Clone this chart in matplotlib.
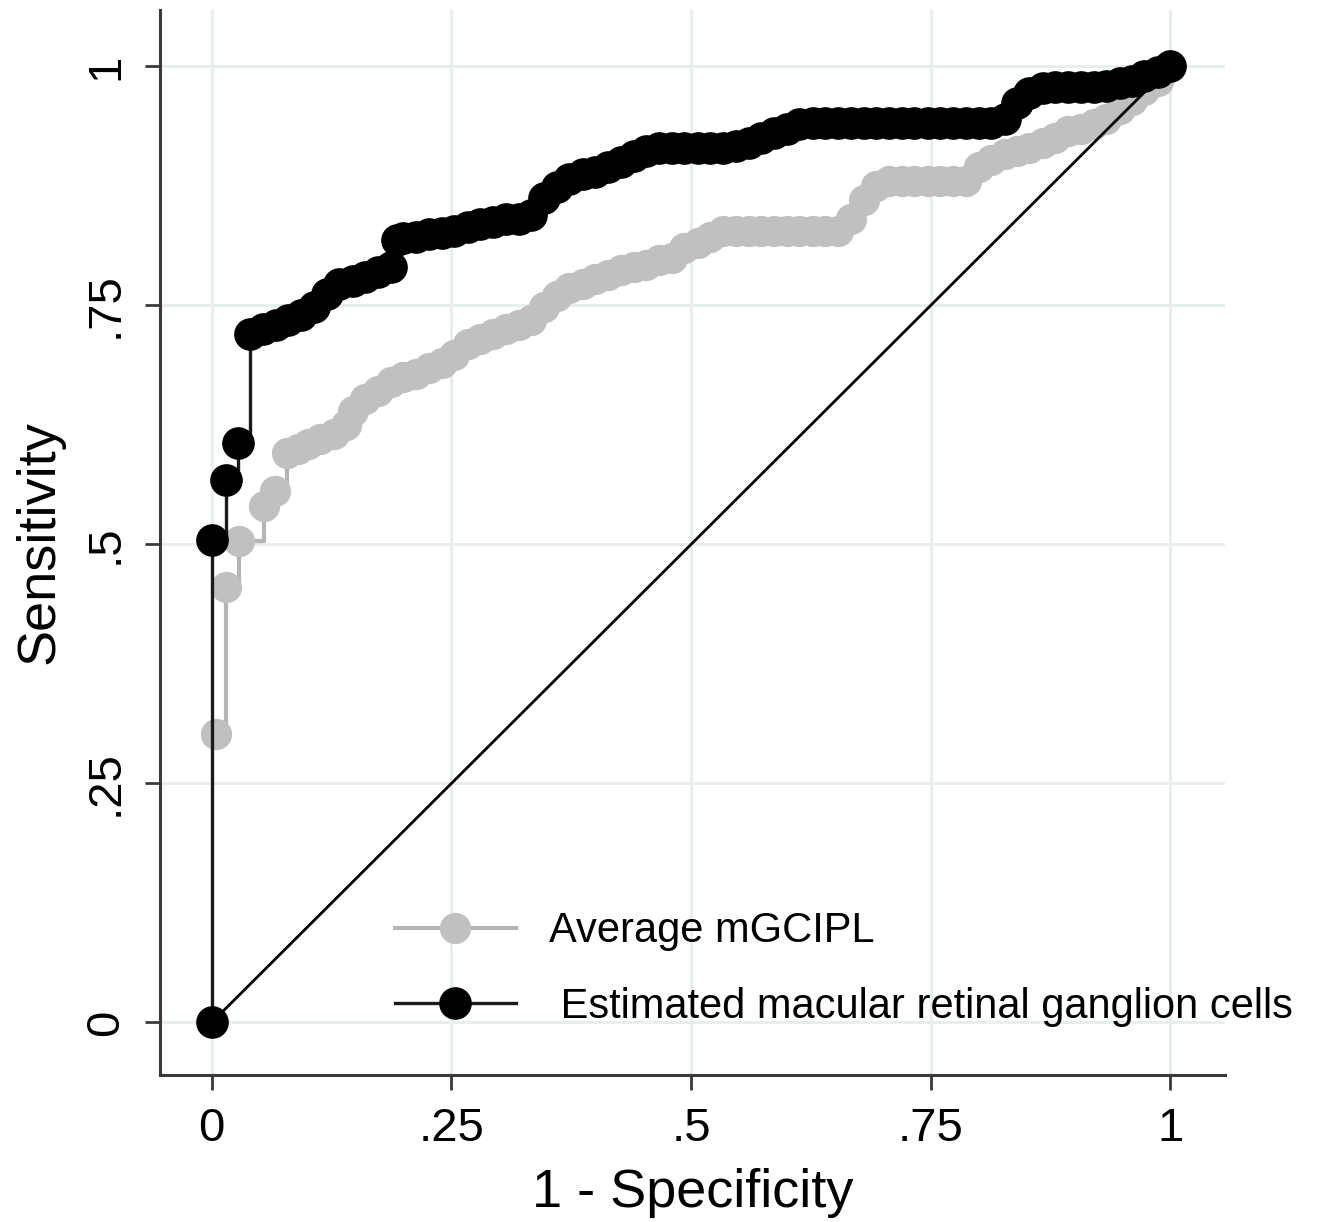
import matplotlib
matplotlib.use("Agg")
import matplotlib.pyplot as plt

plt.rcParams['font.family'] = ['Liberation Sans', 'DejaVu Sans']

# ---- data ----
series_labels = ["Average mGCIPL", " Estimated macular retinal ganglion cells"]
tick_values = [0, 0.25, 0.5, 0.75, 1]
tick_labels = ["0", ".25", ".5", ".75", "1"]

fpr_gcipl = [0.004, 0.015, 0.028, 0.055, 0.066, 0.078,
             0.09, 0.1, 0.113, 0.127, 0.14, 0.147,
             0.16, 0.173, 0.187, 0.2, 0.213, 0.227, 0.24, 0.253, 0.267, 0.28,
             0.293, 0.307, 0.32, 0.333, 0.347, 0.36, 0.373, 0.387, 0.4, 0.413,
             0.427, 0.44, 0.453, 0.467, 0.48, 0.493, 0.507, 0.52,
             0.533, 0.547, 0.56, 0.573, 0.587, 0.6, 0.613, 0.627, 0.64, 0.653,
             0.667, 0.68, 0.693,
             0.707, 0.72, 0.733, 0.747, 0.76, 0.773, 0.787,
             0.8, 0.813, 0.827, 0.84, 0.853, 0.867, 0.88, 0.893, 0.907, 0.92,
             0.933, 0.947, 0.96, 0.973, 0.987, 1.0]
tpr_gcipl = [0.302, 0.455, 0.504, 0.54, 0.556, 0.596,
             0.60, 0.605, 0.61, 0.615, 0.625, 0.64,
             0.652, 0.66, 0.67, 0.675, 0.678, 0.685, 0.69, 0.698, 0.71, 0.715,
             0.72, 0.725, 0.73, 0.735, 0.748, 0.76, 0.768, 0.772, 0.778, 0.782,
             0.787, 0.79, 0.792, 0.797, 0.80, 0.81, 0.815, 0.822,
             0.828, 0.828, 0.828, 0.828, 0.828, 0.828, 0.828, 0.828, 0.828, 0.828,
             0.84, 0.86, 0.875,
             0.88, 0.88, 0.88, 0.88, 0.88, 0.88, 0.88,
             0.895, 0.902, 0.908, 0.912, 0.915, 0.92, 0.925, 0.932, 0.935, 0.94,
             0.945, 0.955, 0.965, 0.975, 0.985, 1.0]

fpr_mrgc = [0.0, 0.0, 0.015, 0.027,
            0.04, 0.053, 0.067, 0.08, 0.093, 0.107, 0.12, 0.133, 0.147, 0.16, 0.173, 0.187,
            0.193,
            0.2, 0.213, 0.227, 0.24, 0.253, 0.267, 0.28, 0.293, 0.307, 0.32, 0.333,
            0.347, 0.36, 0.373, 0.387, 0.4, 0.413, 0.427, 0.44, 0.453, 0.467,
            0.48, 0.493, 0.507, 0.52, 0.533, 0.547,
            0.56, 0.573, 0.587, 0.6, 0.613,
            0.627, 0.64, 0.653, 0.667, 0.68, 0.693, 0.707, 0.72, 0.733, 0.747,
            0.76, 0.773, 0.787, 0.8, 0.813,
            0.827, 0.84, 0.853, 0.867,
            0.88, 0.893, 0.907, 0.92,
            0.933, 0.947, 0.96, 0.973, 0.987, 1.0]
tpr_mrgc = [0.0, 0.505, 0.567, 0.606,
            0.72, 0.725, 0.73, 0.735, 0.74, 0.748, 0.762, 0.772, 0.776, 0.78, 0.785, 0.79,
            0.818,
            0.82, 0.822, 0.825, 0.826, 0.828, 0.832, 0.835, 0.837, 0.84, 0.84, 0.845,
            0.862, 0.874, 0.882, 0.887, 0.89, 0.895, 0.9, 0.906, 0.912, 0.915,
            0.915, 0.915, 0.915, 0.915, 0.915, 0.917,
            0.92, 0.925, 0.93, 0.935, 0.94,
            0.941, 0.941, 0.941, 0.941, 0.941, 0.941, 0.941, 0.941, 0.941, 0.941,
            0.941, 0.941, 0.941, 0.941, 0.941,
            0.945, 0.962, 0.972, 0.977,
            0.978, 0.978, 0.978, 0.978,
            0.979, 0.983, 0.985, 0.99, 0.994, 1.0]

ref_x = [0, 1]
ref_y = [0, 1]

# ---- figure ----
fig = plt.figure(figsize=(13.21, 12.22), dpi=100)
ax = fig.add_axes([160 / 1321, 1 - 1075 / 1222, 1065 / 1321, 1065 / 1222])

ax.set_xlim(-0.054, 1.057)
ax.set_ylim(-0.055, 1.059)

grid_c = '#e8eded'
ax.set_xticks(tick_values)
ax.set_yticks(tick_values)
ax.grid(True, color=grid_c, linewidth=2.2, zorder=0)
ax.set_axisbelow(True)

ax.plot(fpr_gcipl, tpr_gcipl, color='#b4b4b4', linewidth=3, marker='o',
        markersize=21.5, markerfacecolor='#c0c0c0', markeredgecolor='#c0c0c0',
        drawstyle='steps-post', label=series_labels[0], zorder=3)
ax.plot(ref_x, ref_y, color='black', linewidth=2, zorder=4)
ax.plot(fpr_mrgc, tpr_mrgc, color='#1a1a1a', linewidth=2.4, marker='o',
        markersize=22.5, markerfacecolor='black', markeredgecolor='black',
        drawstyle='steps-post', label=series_labels[1], zorder=5)

for s in ['top', 'right']:
    ax.spines[s].set_visible(False)
for s in ['left', 'bottom']:
    ax.spines[s].set_color('#3a3a3a')
    ax.spines[s].set_linewidth(2.2)

ax.set_xticklabels(tick_labels)
ax.set_yticklabels(tick_labels, rotation=90, va='center')
ax.tick_params(axis='both', direction='out', length=11, width=2,
               color='#3a3a3a', labelsize=34, pad=12)

ax.set_xlabel("1 - Specificity", fontsize=39, labelpad=12)
ax.set_ylabel("Sensitivity", fontsize=39, labelpad=14)

leg = ax.legend(loc='upper left', bbox_to_anchor=(0.2207, 0.1536),
                frameon=False, fontsize=30, handlelength=2.9,
                handletextpad=0.8, labelspacing=0.85, borderpad=0,
                borderaxespad=0, markerscale=1.0)

fig.savefig("out.png", dpi=100)
